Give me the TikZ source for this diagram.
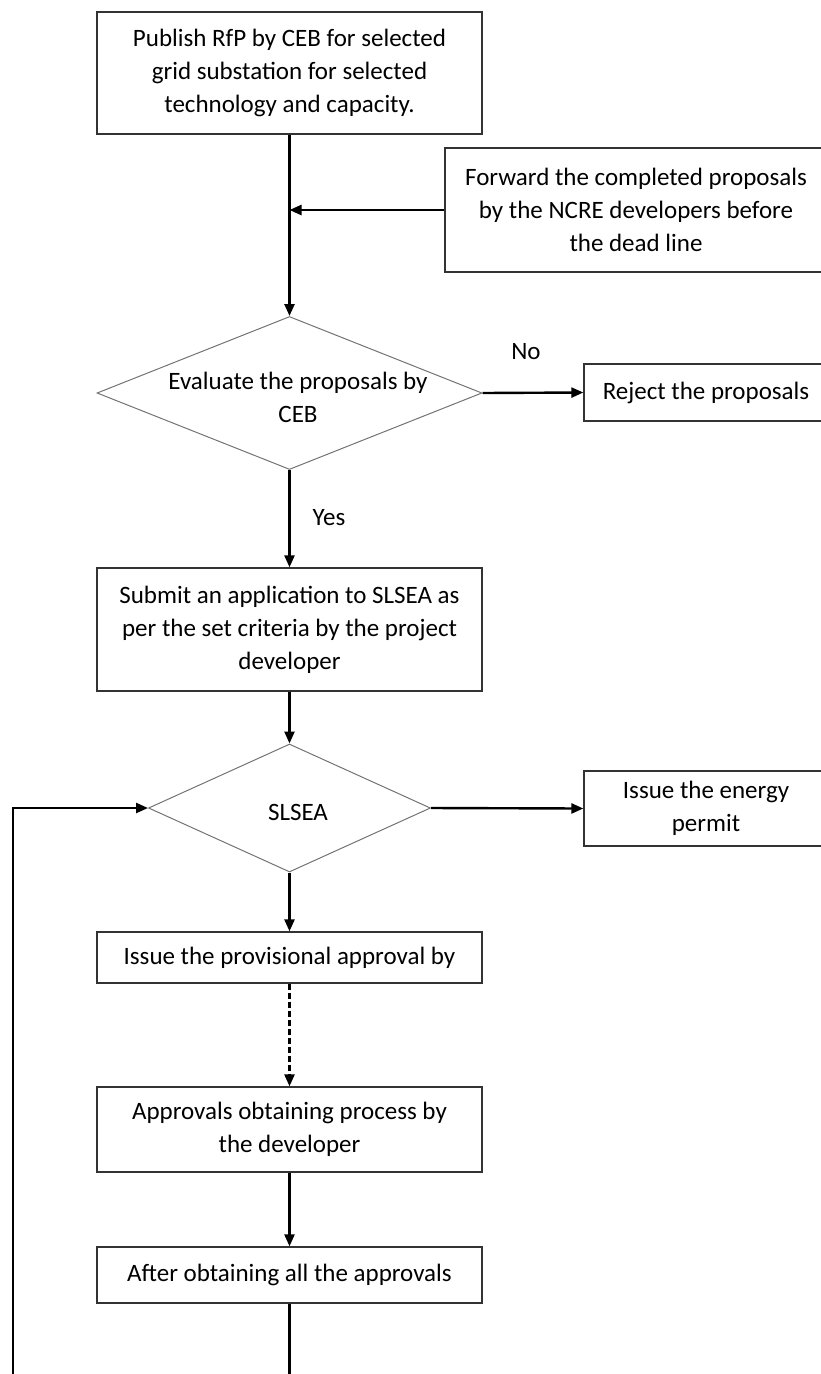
\documentclass[tikz,border=0pt]{standalone}
\usepackage{fontspec}
\setmainfont{Carlito}
\usetikzlibrary{arrows.meta,shapes.geometric}
\begin{document}
\begin{tikzpicture}[x=1pt,y=-1pt,
  font=\fontsize{25}{33}\selectfont,
  box/.style={draw=black!80, line width=1.3pt, rectangle, align=center, inner sep=0pt},
  dia/.style={draw=black!55, line width=1pt, diamond, align=center, inner sep=0pt},
  conn/.style={line width=2.4pt, -{Triangle[length=12pt,width=10pt]}},
  plain/.style={line width=2.4pt},
  lbl/.style={inner sep=0pt}]
\useasboundingbox (0,0) rectangle (821,1374);
% nodes
\node[box, minimum width=385, minimum height=122] (b1) at (289.5,73)
  {Publish RfP by CEB for selected\\grid substation for selected\\technology and capacity.};
\node[box, minimum width=382, minimum height=124] (fw) at (636,210)
  {Forward the completed proposals\\by the NCRE developers before\\the dead line};
\node[dia, minimum width=385, minimum height=153] (d1) at (289.5,393) {};
\node[lbl, align=center] (d1t) at (298,397) {Evaluate the proposals by\\CEB};
\node[box, minimum width=244, minimum height=57] (rj) at (706,392.5) {Reject the proposals};
\node[lbl] (no) at (526,352) {No};
\node[lbl] (yes) at (329,518) {Yes};
\node[box, minimum width=385, minimum height=123] (b3) at (289.5,629.5)
  {Submit an application to SLSEA as\\per the set criteria by the project\\developer};
\node[dia, minimum width=282, minimum height=128] (d2) at (289.5,808) {};
\node[lbl] (d2t) at (298,812) {SLSEA};
\node[box, minimum width=244, minimum height=75] (pm) at (706,808.5)
  {Issue the energy\\permit};
\node[box, minimum width=385, minimum height=51] (b5) at (289.5,957.5)
  {Issue the provisional approval by};
\node[box, minimum width=385, minimum height=85] (b6) at (289.5,1129.5)
  {Approvals obtaining process by\\the developer};
\node[box, minimum width=385, minimum height=56] (b7) at (289.5,1275)
  {After obtaining all the approvals};
% coordinates
\coordinate (j1) at (289.5,210);
\coordinate (bot1) at (289.5,1380);
\coordinate (botl) at (13,1380);
\coordinate (lt) at (13,808);
% connectors
\draw[conn] (b1.south) -- (d1.north);
\draw[conn] (fw.west) -- (j1);
\draw[conn] (d1.east) -- (rj.west);
\draw[conn] (d1.south) -- (b3.north);
\draw[conn] (b3.south) -- (d2.north);
\draw[conn] (d2.east) -- (pm.west);
\draw[conn] (d2.south) -- (b5.north);
\draw[conn, dash pattern=on 6pt off 3pt] (b5.south) -- (b6.north);
\draw[conn] (b6.south) -- (b7.north);
\draw[plain] (b7.south) -- (bot1);
\draw[conn] (botl) -- (lt) -- (d2.west);
\end{tikzpicture}
\end{document}
